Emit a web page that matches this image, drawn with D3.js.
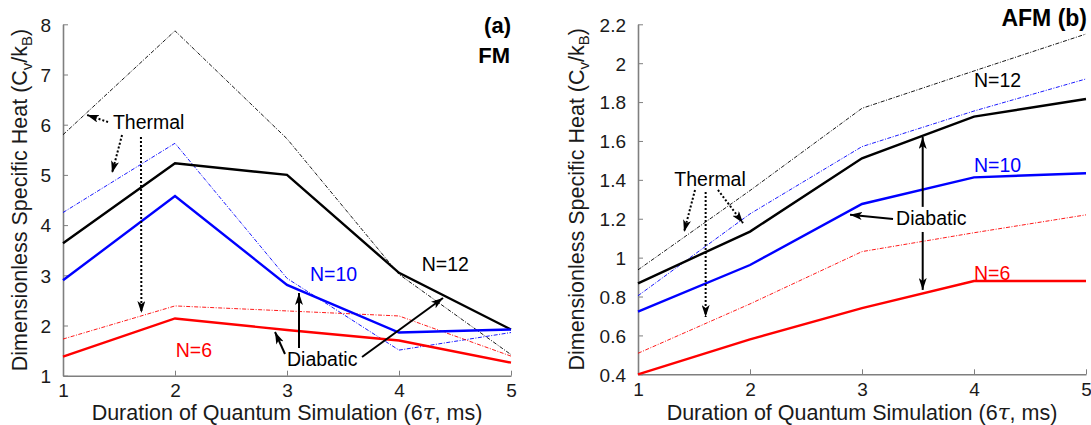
<!DOCTYPE html>
<html><head><meta charset="utf-8">
<script src="https://cdn.jsdelivr.net/npm/d3@7"></script>
<style>
html,body{margin:0;padding:0;background:#fff;}
svg{display:block;}
text{font-family:"Liberation Sans",Arial,Helvetica,sans-serif;}
</style></head>
<body>
<svg id="chart" width="1091" height="425"></svg>
<script>
// ---- data ----
const durations = [1, 2, 3, 4, 5];
const xTicks = [1, 2, 3, 4, 5];

// Panel (a) FM
const fmTicksY = [1, 2, 3, 4, 5, 6, 7, 8];
const fmThermal12 = [5.80, 7.87, 5.72, 3.02, 1.42];
const fmDiabatic12 = [3.64, 5.23, 5.00, 3.05, 1.92];
const fmThermal10 = [4.25, 5.63, 2.94, 1.51, 1.86];
const fmDiabatic10 = [2.90, 4.58, 2.81, 1.86, 1.92];
const fmThermal6 = [1.73, 2.39, 2.29, 2.19, 1.39];
const fmDiabatic6 = [1.38, 2.14, 1.91, 1.70, 1.26];

// Panel (b) AFM
const afmTicksY = [0.4, 0.6, 0.8, 1, 1.2, 1.4, 1.6, 1.8, 2, 2.2];
const afmThermal12 = [0.937, 1.345, 1.768, 1.96, 2.15];
const afmDiabatic12 = [0.868, 1.134, 1.511, 1.725, 1.816];
const afmThermal10 = [0.804, 1.225, 1.571, 1.754, 1.919];
const afmDiabatic10 = [0.722, 0.962, 1.276, 1.413, 1.434];
const afmThermal6 = [0.508, 0.762, 1.031, 1.128, 1.22];
const afmDiabatic6 = [0.40, 0.58, 0.74, 0.88, 0.88];

const svg = d3.select("#chart");
const defs = svg.append("defs");
defs.append("marker").attr("id","ah").attr("viewBox","0 0 12 8")
  .attr("refX",12).attr("refY",4).attr("markerWidth",12).attr("markerHeight",8)
  .attr("markerUnits","userSpaceOnUse").attr("orient","auto")
  .append("path").attr("d","M0,0 L12,4 L0,8 L3,4 Z").attr("fill","#000");

const AX = "#7f7f7f";

function panel(opt) {
  const x = d3.scaleLinear().domain([1,5]).range(opt.xr);
  const y = d3.scaleLinear().domain(opt.yd).range(opt.yr);
  const g = svg.append("g");

  // axes
  const ya = d3.axisLeft(y).tickValues(opt.yt).tickSizeInner(-5).tickSizeOuter(0).tickPadding(12)
    .tickFormat(d3.format("~g"));
  const xa = d3.axisBottom(x).tickValues(xTicks).tickSizeInner(-5).tickSizeOuter(0).tickPadding(12)
    .tickFormat(d3.format("d"));
  const gy = g.append("g").attr("transform",`translate(${opt.xr[0]},0)`).call(ya);
  const gx = g.append("g").attr("transform",`translate(0,${opt.yr[0]})`).call(xa);
  [gx, gy].forEach(a => {
    a.select(".domain").attr("stroke",AX).attr("stroke-width",1.6);
    a.selectAll(".tick line").attr("stroke",AX).attr("stroke-width",1);
    a.selectAll(".tick text").attr("fill","#1a1a1a").attr("font-size",19)
      .attr("font-family","Liberation Sans, Arial, sans-serif");
  });
  gy.selectAll(".tick text").attr("dy","0.36em");
  gx.selectAll(".tick text").attr("dy","0.5em");

  const line = d3.line().x((d,i)=>x(durations[i])).y(d=>y(d));
  opt.series.forEach(s => {
    g.append("path").datum(s.v).attr("d",line).attr("fill","none")
      .attr("stroke",s.c).attr("stroke-width",s.thin?0.9:2.4)
      .attr("stroke-dasharray",s.thin?"4,1.5,1,1.5":null)
      .attr("stroke-linejoin","miter");
  });

  // axis labels
  const xl = g.append("text").attr("x",(opt.xr[0]+opt.xr[1])/2).attr("y",420)
    .attr("text-anchor","middle").attr("font-size",21.5).attr("fill","#1a1a1a");
  xl.append("tspan").text("Duration of Quantum Simulation (6");
  xl.append("tspan").attr("font-family","DejaVu Serif").attr("font-style","italic").text("τ");
  xl.append("tspan").text(", ms)");

  const ylab = g.append("text").attr("transform",`translate(${opt.ylx},${(opt.yr[0]+opt.yr[1])/2}) rotate(-90)`)
    .attr("text-anchor","middle").attr("font-size",21.5).attr("fill","#1a1a1a");
  ylab.append("tspan").text("Dimensionless Specific Heat (C");
  ylab.append("tspan").attr("font-size",15).attr("dy",5).text("v");
  ylab.append("tspan").attr("dy",-5).text("/k");
  ylab.append("tspan").attr("font-size",15).attr("dy",5).text("B");
  ylab.append("tspan").attr("dy",-5).text(")");

  // annotations
  opt.texts.forEach(t => {
    g.append("text").attr("x",x(t.x)).attr("y",y(t.y)).attr("fill",t.c||"#000")
      .attr("font-size",19.5).text(t.t);
  });
  opt.arrows.forEach(a => {
    g.append("line").attr("x1",x(a[0])).attr("y1",y(a[1])).attr("x2",x(a[2])).attr("y2",y(a[3]))
      .attr("stroke","#000").attr("stroke-width",2)
      .attr("stroke-dasharray",a[4]?"2,2":null)
      .attr("marker-end","url(#ah)");
  });
  opt.titles.forEach(t => {
    g.append("text").attr("x",t.x).attr("y",t.y).attr("text-anchor","end")
      .attr("font-family","Liberation Serif, Times New Roman, serif").attr("font-weight","bold")
      .attr("font-size",t.s).attr("fill","#000").text(t.t);
  });
}

panel({
  xr:[63,511], yd:[1,8], yr:[375.7,24.3], yt:fmTicksY, ylx:27,
  series:[
    {v:fmThermal12,c:"#000",thin:true},{v:fmThermal10,c:"#0000ff",thin:true},{v:fmThermal6,c:"#ff0000",thin:true},
    {v:fmDiabatic12,c:"#000"},{v:fmDiabatic10,c:"#0000ff"},{v:fmDiabatic6,c:"#ff0000"}
  ],
  texts:[
    {t:"Thermal",x:1.446,y:5.914},{t:"Diabatic",x:3.0,y:1.199},
    {t:"N=12",x:4.203,y:3.086},{t:"N=10",x:3.205,y:2.886,c:"#0000ff"},{t:"N=6",x:2.006,y:1.378,c:"#ff0000"}
  ],
  arrows:[
    [1.402,6.054,1.214,6.194,true],[1.527,5.795,1.4375,5.038,true],[1.696,5.755,1.70,2.249,true],
    [2.982,1.432,2.893,1.87,false],[3.107,1.552,3.107,2.647,false],[3.67,1.373,4.393,2.548,false]
  ],
  titles:[{t:"(a)",x:511,y:33,s:22},{t:"FM",x:510,y:63,s:22}]
});

panel({
  xr:[638,1086], yd:[0.4,2.2], yr:[374.3,24.3], yt:afmTicksY, ylx:584,
  series:[
    {v:afmThermal12,c:"#000",thin:true},{v:afmThermal10,c:"#0000ff",thin:true},{v:afmThermal6,c:"#ff0000",thin:true},
    {v:afmDiabatic12,c:"#000"},{v:afmDiabatic10,c:"#0000ff"},{v:afmDiabatic6,c:"#ff0000"}
  ],
  texts:[
    {t:"Thermal",x:1.324,y:1.370},{t:"Diabatic",x:3.304,y:1.168},
    {t:"N=12",x:4.0,y:1.876},{t:"N=10",x:4.0,y:1.442,c:"#0000ff"},{t:"N=6",x:4.0,y:0.885,c:"#ff0000"}
  ],
  arrows:[
    [1.509,1.348,1.411,1.132,true],[1.604,1.338,1.604,0.695,true],[1.714,1.348,1.9375,1.178,true],
    [3.277,1.199,2.893,1.22,false],[3.542,1.261,3.542,1.621,false],[3.542,1.132,3.542,0.834,false]
  ],
  titles:[{t:"AFM (b)",x:1087,y:26,s:23}]
});
</script>
</body></html>
